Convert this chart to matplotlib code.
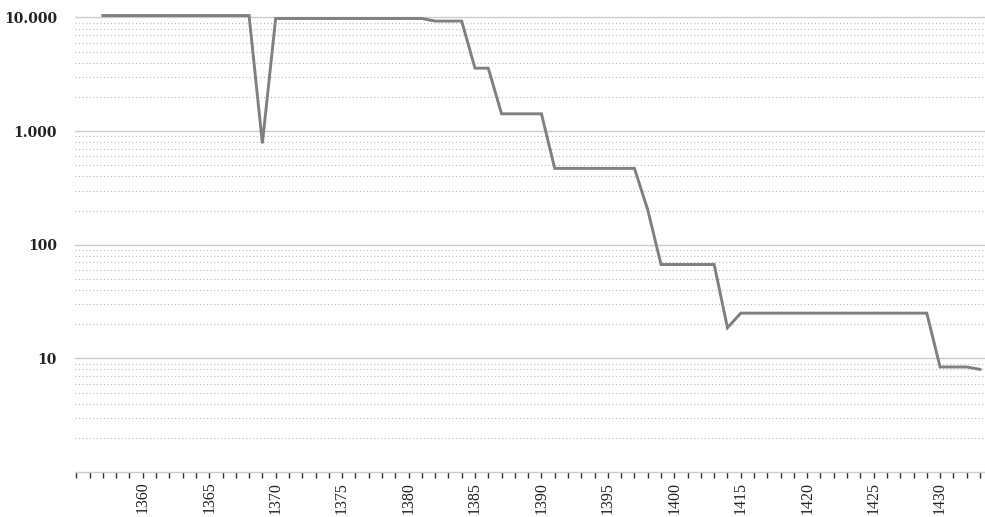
import numpy as np
import matplotlib.pyplot as plt
from matplotlib.ticker import FixedLocator, NullFormatter

# categories on the x axis (gap between 1404 and 1415)
years = list(range(1355, 1405)) + list(range(1415, 1434))

# values per category, NaN where there is no data
values = [np.nan, np.nan,
          10400, 10400, 10400, 10400, 10400, 10400, 10400, 10400, 10400, 10400, 10400, 10400,
          780,
          9800, 9800, 9800, 9800, 9800, 9800, 9800, 9800, 9800, 9800, 9800, 9800,
          9300, 9300, 9300,
          3580, 3580,
          1420, 1420, 1420, 1420,
          470, 470, 470, 470, 470, 470, 470,
          203,
          67, 67, 67, 67, 67,
          18.6,
          25, 25, 25, 25, 25, 25, 25, 25, 25, 25, 25, 25, 25, 25, 25,
          8.4, 8.4, 8.4,
          8.0]

ytick_vals = [10, 100, 1000, 10000]
ytick_labels = ["10", "100", "1.000", "10.000"]

x = np.arange(len(years))

fig = plt.figure(figsize=(9.85, 5.17), dpi=100)
ax = fig.add_axes([75 / 985, 1 - 472 / 517, 910 / 985, 462 / 517])

ax.plot(x, values, color="#808080", linewidth=2.1, solid_joinstyle="miter", zorder=3)

ax.set_yscale("log")
ax.set_ylim(1, 11640)
ax.set_xlim(-0.1, 68.38)

# y axis
ax.yaxis.set_major_locator(FixedLocator(ytick_vals))
ax.set_yticklabels(ytick_labels)
minors = [m * 10 ** e for e in range(0, 4) for m in range(2, 10)]
ax.yaxis.set_minor_locator(FixedLocator(minors))
ax.yaxis.set_minor_formatter(NullFormatter())
ax.tick_params(axis="y", which="both", length=0, pad=13)
for lab in ax.get_yticklabels():
    lab.set_fontfamily("DejaVu Serif")
    lab.set_fontsize(10)
    lab.set_fontweight("bold")
    lab.set_color("#222222")

ax.grid(axis="y", which="major", color="#cccccc", linewidth=1.0, linestyle="-")
ax.grid(axis="y", which="minor", color="#bbbbbb", linewidth=0.8, linestyle=(0, (1, 2.2)))
ax.set_axisbelow(True)

# x axis: tick at every category, label every fifth
ax.set_xticks(x)
ax.set_xticklabels([str(y) if i % 5 == 0 and i > 0 else "" for i, y in enumerate(years)],
                   rotation=90, fontsize=11.5, fontfamily="Liberation Serif", color="#222222")
ax.tick_params(axis="x", length=4, width=1, color="#333333", pad=3)

for s in ["top", "right", "left"]:
    ax.spines[s].set_visible(False)
ax.spines["bottom"].set_color("#cccccc")
ax.spines["bottom"].set_linewidth(1.0)

fig.savefig("out.png", dpi=100)
